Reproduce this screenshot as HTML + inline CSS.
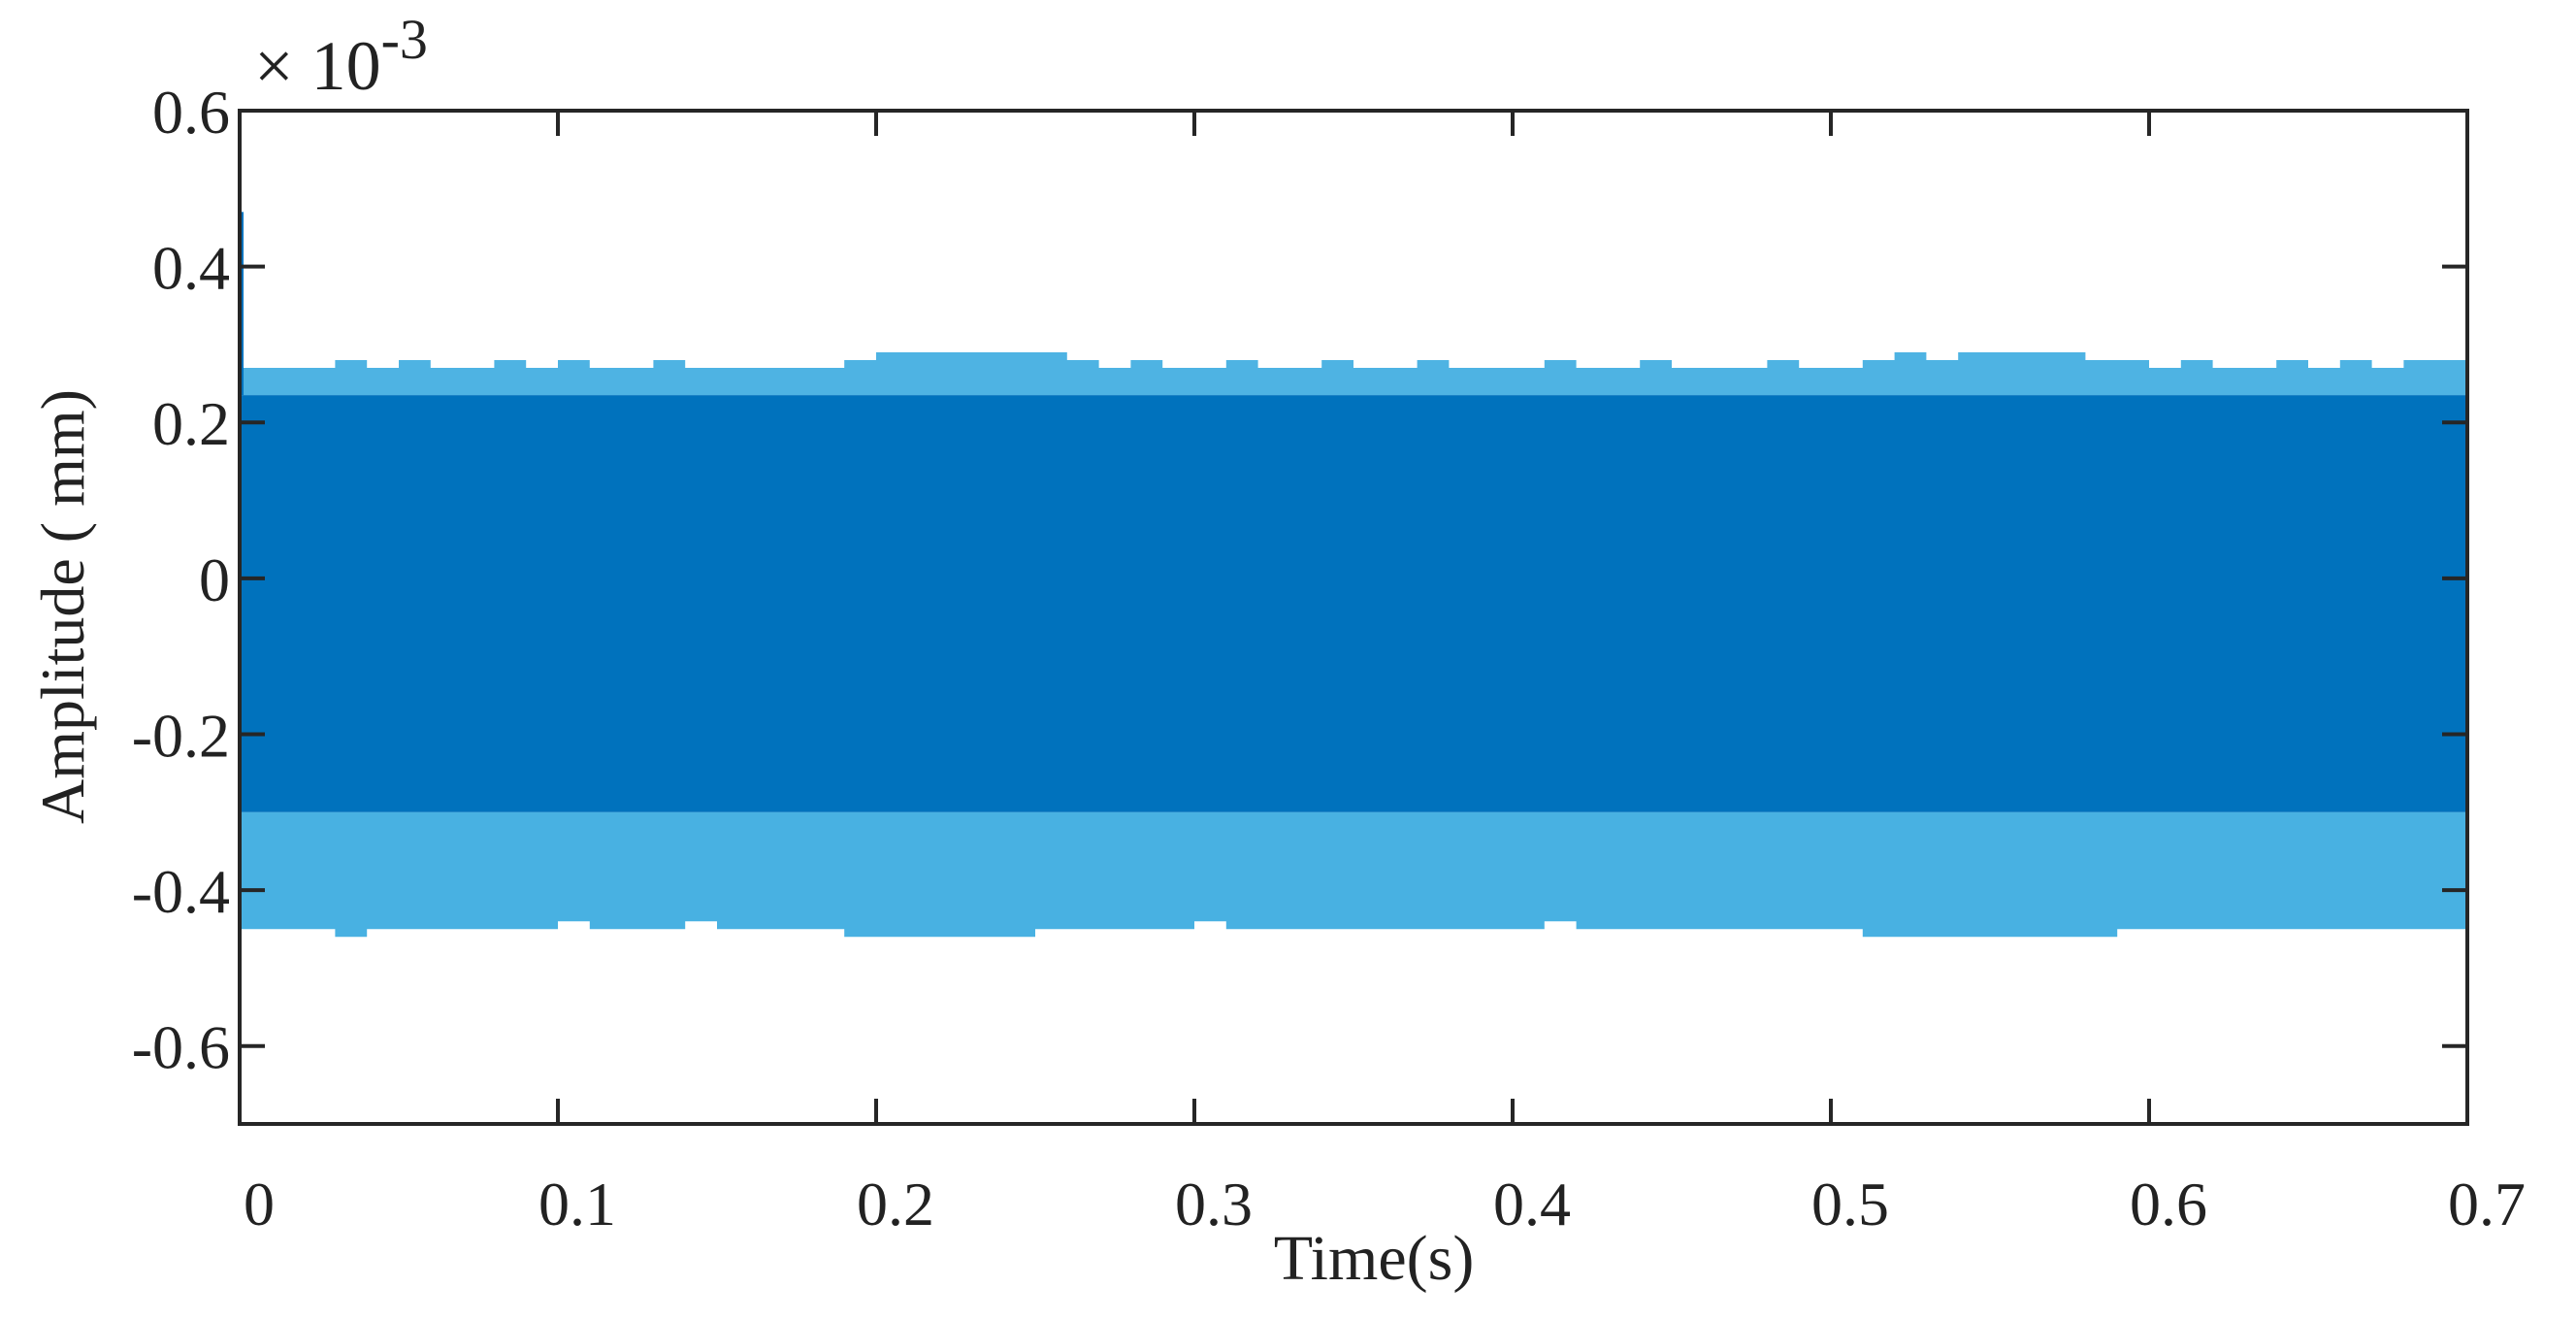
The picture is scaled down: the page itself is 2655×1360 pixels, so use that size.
<!DOCTYPE html>
<html><head><meta charset="utf-8">
<style>
html,body{margin:0;padding:0;background:#fff;}
svg{display:block;}
text{font-family:"Liberation Serif",serif;fill:#222;}
</style></head>
<body>
<svg id="chart" width="2655" height="1360" viewBox="0 0 2655 1360" xmlns="http://www.w3.org/2000/svg">
<g id="plot"></g>
<g id="axes"></g>
<text x="262" y="92" font-size="72">× 10<tspan font-size="58" dy="-32">-3</tspan></text>
<text x="1416" y="1318" font-size="66" text-anchor="middle">Time(s)</text>
<text x="0" y="0" font-size="64" text-anchor="middle" transform="translate(86,625) rotate(-90)">Amplitude ( mm)</text>
</svg>
<script>
const xTicks = [0,0.1,0.2,0.3,0.4,0.5,0.6,0.7];
const xTickLabels = ["0","0.1","0.2","0.3","0.4","0.5","0.6","0.7"];
const yTicks = [0.6,0.4,0.2,0,-0.2,-0.4,-0.6];
const yTickLabels = ["0.6","0.4","0.2","0","-0.2","-0.4","-0.6"];
// per 0.01 s bin envelope (x10^-3 mm)
const upperPeaks = [0.27,0.27,0.27,0.28,0.27,0.28,0.27,0.27,0.28,0.27,0.28,0.27,0.27,0.28,0.27,0.27,0.27,0.27,0.27,0.28,0.29,0.29,0.29,0.29,0.29,0.29,0.28,0.27,0.28,0.27,0.27,0.28,0.27,0.27,0.28,0.27,0.27,0.28,0.27,0.27,0.27,0.28,0.27,0.27,0.28,0.27,0.27,0.27,0.28,0.27,0.27,0.28,0.29,0.28,0.29,0.29,0.29,0.29,0.28,0.28,0.27,0.28,0.27,0.27,0.28,0.27,0.28,0.27,0.28,0.28];
const lowerPeaks = [-0.45,-0.45,-0.45,-0.46,-0.45,-0.45,-0.45,-0.45,-0.45,-0.45,-0.44,-0.45,-0.45,-0.45,-0.44,-0.45,-0.45,-0.45,-0.45,-0.46,-0.46,-0.46,-0.46,-0.46,-0.46,-0.45,-0.45,-0.45,-0.45,-0.45,-0.44,-0.45,-0.45,-0.45,-0.45,-0.45,-0.45,-0.45,-0.45,-0.45,-0.45,-0.44,-0.45,-0.45,-0.45,-0.45,-0.45,-0.45,-0.45,-0.45,-0.45,-0.46,-0.46,-0.46,-0.46,-0.46,-0.46,-0.46,-0.46,-0.45,-0.45,-0.45,-0.45,-0.45,-0.45,-0.45,-0.45,-0.45,-0.45,-0.45];
const coreUpper = [0.235];
const coreLower = [-0.30];
const startSpike = [0.47];
const binWidth = [0.01];

const L=247,R=2543,T=114,B=1158;
const xMin=0,xMax=0.7,yMin=-0.7,yMax=0.6;
const X=v=>L+(v-xMin)/(xMax-xMin)*(R-L);
const Y=v=>B-(v-yMin)/(yMax-yMin)*(B-T);
const NS="http://www.w3.org/2000/svg";
const plot=document.getElementById('plot');
const axes=document.getElementById('axes');
function mk(tag,attrs,parent){const e=document.createElementNS(NS,tag);for(const k in attrs)e.setAttribute(k,attrs[k]);parent.appendChild(e);return e;}

let dU="M"+X(0)+","+Y(coreUpper[0]);
upperPeaks.forEach((v,i)=>{dU+=" L"+X(i*binWidth[0])+","+Y(v)+" L"+X((i+1)*binWidth[0])+","+Y(v);});
dU+=" L"+X(xMax)+","+Y(coreUpper[0])+" Z";
const up=mk('path',{d:dU,fill:'#22a0dc','fill-opacity':'0.8'},plot);


let dL="M"+X(0)+","+Y(coreLower[0]);
lowerPeaks.forEach((v,i)=>{dL+=" L"+X(i*binWidth[0])+","+Y(v)+" L"+X((i+1)*binWidth[0])+","+Y(v);});
dL+=" L"+X(xMax)+","+Y(coreLower[0])+" Z";
const lo=mk('path',{d:dL,fill:'#1a9ddb','fill-opacity':'0.8'},plot);


const core=mk('rect',{x:X(0),y:Y(coreUpper[0]),width:X(xMax)-X(0),height:Y(coreLower[0])-Y(coreUpper[0]),fill:'#0072bd'},plot);


const sp=mk('line',{x1:X(0)+2,x2:X(0)+2,y1:Y(startSpike[0]),y2:Y(coreUpper[0]),stroke:'#0072bd','stroke-width':4},plot);



const fr=mk('rect',{x:L,y:T,width:R-L,height:B-T,fill:'none',stroke:'#262626','stroke-width':4},axes);


xTicks.forEach((v,i)=>{
  const x=X(v);
  mk('line',{x1:x,x2:x,y1:B,y2:B-26,stroke:'#262626','stroke-width':4},axes);
  mk('line',{x1:x,x2:x,y1:T,y2:T+26,stroke:'#262626','stroke-width':4},axes);
  const t=mk('text',{x:x+20,y:1262,'font-size':64,'text-anchor':'middle'},axes);
  t.textContent=xTickLabels[i];
  
  
});
yTicks.forEach((v,i)=>{
  const y=Y(v);
  mk('line',{x1:L,x2:L+26,y1:y,y2:y,stroke:'#262626','stroke-width':4},axes);
  mk('line',{x1:R,x2:R-26,y1:y,y2:y,stroke:'#262626','stroke-width':4},axes);
  const t=mk('text',{x:237,y:y+23,'font-size':64,'text-anchor':'end'},axes);
  t.textContent=yTickLabels[i];
  
  
});
</script>
</body></html>
